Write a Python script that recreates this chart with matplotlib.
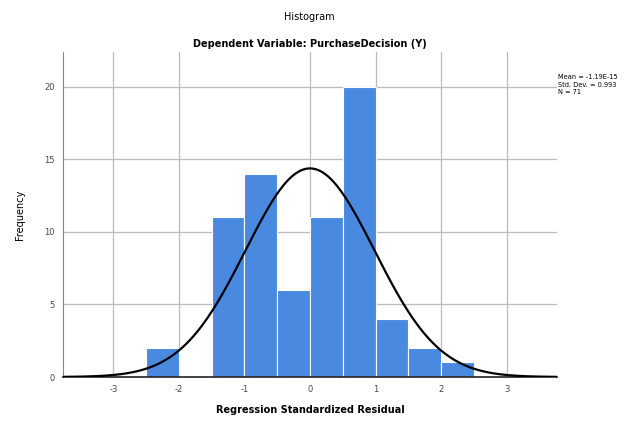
import numpy as np
import matplotlib.pyplot as plt

plt.rcParams["axes.unicode_minus"] = False

# binned residuals (bin width 0.5)
bin_edges = [-2.5, -2.0, -1.5, -1.0, -0.5, 0.0, 0.5, 1.0, 1.5, 2.0, 2.5]
counts = [2, 0, 11, 14, 6, 11, 20, 4, 2, 1]
mean = 0.0
sd = 0.985
n = 71
xticks = [-3, -2, -1, 0, 1, 2, 3]
yticks = [0, 5, 10, 15, 20]

fig = plt.figure(figsize=(6.32, 4.23), dpi=100)
ax = fig.add_axes([63/632, 46/423, 494/632, 325/423])

left = np.array(bin_edges[:-1])
width = np.diff(bin_edges)
ax.bar(left, counts, width=width, align="edge", color="#4A89E0",
       edgecolor="white", linewidth=0.8, zorder=2)

xs = np.linspace(-3.77, 3.77, 400)
curve = n * 0.5 / (sd * np.sqrt(2 * np.pi)) * np.exp(-0.5 * ((xs - mean) / sd) ** 2)
ax.plot(xs, curve, color="black", linewidth=1.6, zorder=3)

ax.set_xlim(-3.77, 3.77)
ax.set_ylim(0, 22.4)
ax.set_xticks(xticks)
ax.set_yticks(yticks)
ax.grid(True, color="#bbbbbb", linewidth=0.9, zorder=0)
ax.set_axisbelow(True)
# SPSS leaves out the -1 gridline here
ax.xaxis.get_gridlines()[xticks.index(-1)].set_visible(False)

for s in ["top", "right"]:
    ax.spines[s].set_visible(False)
ax.spines["left"].set_color("#888888")
ax.spines["bottom"].set_color("#222222")
ax.spines["bottom"].set_linewidth(1.2)
ax.tick_params(length=0, labelsize=6, colors="#444444", pad=6)

ax.set_xlabel("Regression Standardized Residual", fontsize=7, fontweight="bold", labelpad=8)
ax.set_ylabel("Frequency", fontsize=7, labelpad=14)
fig.text(0.49, 0.952, "Histogram", ha="center", fontsize=7)
fig.text(0.49, 0.89, "Dependent Variable: PurchaseDecision (Y)", ha="center",
         fontsize=7, fontweight="bold")

fig.text(0.883, 0.825, "Mean = -1.19E-15\nStd. Dev. = 0.993\nN = 71",
         fontsize=4.8, va="top", linespacing=1.3)

fig.savefig("out.png", dpi=100)
